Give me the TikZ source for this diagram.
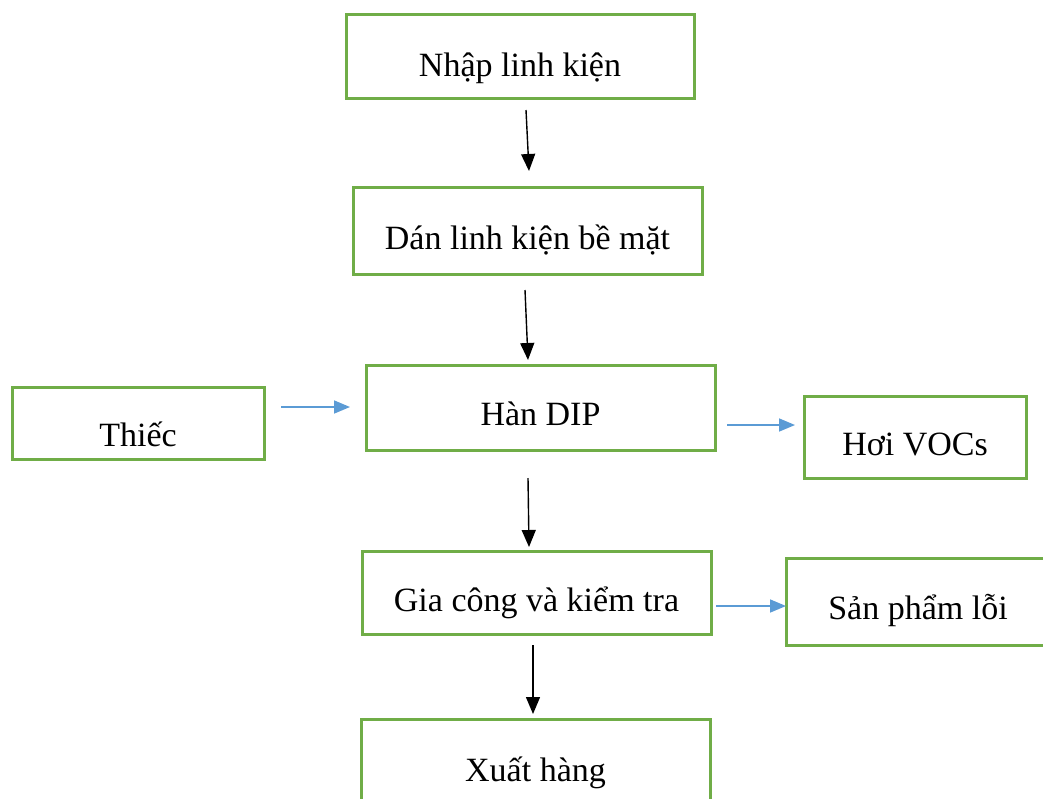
\documentclass[tikz,border=0pt]{standalone}
\usepackage{fontspec}
\setmainfont{Liberation Serif}
\usetikzlibrary{arrows.meta}
\definecolor{boxgreen}{HTML}{70AD47}
\definecolor{flowblue}{HTML}{5B9BD5}
\begin{document}
\begin{tikzpicture}[x=1pt,y=-1pt,
  procbox/.style={draw=boxgreen,line width=3pt,rectangle,inner sep=0pt,fill=white},
  boxtext/.style={anchor=base,inner sep=0pt,font=\fontsize{34}{40}\selectfont},
  mainflow/.style={draw=black,line width=1.4pt,-{Triangle[width=14pt,length=17pt]}},
  sideflow/.style={draw=flowblue,line width=1.6pt,-{Triangle[width=13pt,length=16pt]}}]
\useasboundingbox (0,0) rectangle (1043,798);
\clip (0,0) rectangle (1043,798);
\fill[white] (0,0) rectangle (1043,798);

% process boxes
\node[procbox,minimum width=348pt,minimum height=84pt] (nhap) at (520,56) {};
\node[procbox,minimum width=349pt,minimum height=87pt] (dan) at (527.5,230.5) {};
\node[procbox,minimum width=349pt,minimum height=85pt] (han) at (540.5,407.5) {};
\node[procbox,minimum width=252pt,minimum height=72pt] (thiec) at (138,423) {};
\node[procbox,minimum width=222pt,minimum height=82pt] (voc) at (915,437) {};
\node[procbox,minimum width=349pt,minimum height=83pt] (giacong) at (536.5,592.5) {};
\node[procbox,minimum width=274pt,minimum height=87pt] (loi) at (923,601.5) {};
\node[procbox,minimum width=349pt,minimum height=84pt] (xuat) at (535.5,761) {};

% labels
\node[boxtext] (tnhap) at (520,76) {Nhập linh kiện};
\node[boxtext] (tdan) at (527.5,249) {Dán linh kiện bề mặt};
\node[boxtext] (than) at (540.5,425) {Hàn DIP};
\node[boxtext] (tthiec) at (138,446) {Thiếc};
\node[boxtext] (tvoc) at (915,455) {Hơi VOCs};
\node[boxtext] (tgiacong) at (536.5,611) {Gia công và kiểm tra};
\node[boxtext] (tloi) at (918,619) {Sản phẩm lỗi};
\node[boxtext] (txuat) at (535.5,781) {Xuất hàng};

% arrow end points
\coordinate (a1s) at (526,110);  \coordinate (a1e) at (529,171);
\coordinate (a2s) at (525,290);  \coordinate (a2e) at (528,360);
\coordinate (a3s) at (528,478);  \coordinate (a3e) at (529,547);
\coordinate (a4s) at (533,645);  \coordinate (a4e) at (533,714);
\coordinate (b1s) at (281,407);  \coordinate (b1e) at (350,407);
\coordinate (b2s) at (727,425);  \coordinate (b2e) at (795,425);
\coordinate (b3s) at (716,606);  \coordinate (b3e) at (786,606);

% main process flow
\draw[mainflow] (a1s) -- (a1e);
\draw[mainflow] (a2s) -- (a2e);
\draw[mainflow] (a3s) -- (a3e);
\draw[mainflow] (a4s) -- (a4e);

% inputs and outputs
\draw[sideflow] (b1s) -- (b1e);
\draw[sideflow] (b2s) -- (b2e);
\draw[sideflow] (b3s) -- (b3e);
\end{tikzpicture}
\end{document}
